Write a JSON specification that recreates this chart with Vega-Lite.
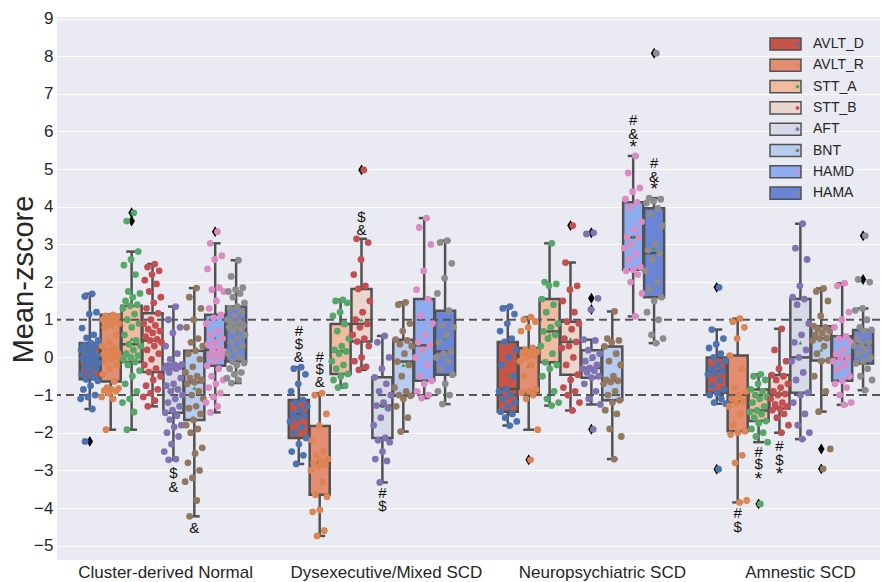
{
"$schema": "https://vega.github.io/schema/vega-lite/v6.json",
"width": 823, "height": 543,
"autosize": {"type": "none"},
"padding": {"left": 57, "top": 17, "right": 1, "bottom": 22},
"background": "white",
"config": {"view": {"fill": "#EAEAF2", "stroke": null}, "font": "Liberation Sans",
 "axisY": {"labelOverlap": false, "labelSeparation": 0, "tickCount": 15, "values": [-5,-4,-3,-2,-1,0,1,2,3,4,5,6,7,8,9]},
 "axisX": {"labelOverlap": false}},
"datasets": {
"stats": [
{"g":"N","t":"AVLT_D","lo":-1.37,"q1":-0.58,"med":-0.04,"q3":0.38,"hi":1.69,"mean":-0.1},
{"g":"N","t":"AVLT_R","lo":-1.92,"q1":-0.64,"med":0.1,"q3":1.13,"hi":1.13,"mean":0.18},
{"g":"N","t":"STT_A","lo":-1.92,"q1":-0.12,"med":0.35,"q3":1.37,"hi":2.81,"mean":0.49},
{"g":"N","t":"STT_B","lo":-1.3,"q1":-0.39,"med":0.45,"q3":1.17,"hi":2.48,"mean":0.49},
{"g":"N","t":"AFT","lo":-2.72,"q1":-1.47,"med":-0.28,"q3":-0.19,"hi":1.35,"mean":-0.81},
{"g":"N","t":"BNT","lo":-4.22,"q1":-1.66,"med":-0.66,"q3":0.18,"hi":1.84,"mean":-0.81},
{"g":"N","t":"HAMD","lo":-1.46,"q1":-0.22,"med":0.2,"q3":1.13,"hi":3.03,"mean":0.51},
{"g":"N","t":"HAMA","lo":-0.68,"q1":-0.11,"med":0.84,"q3":1.35,"hi":2.58,"mean":0.68},
{"g":"D","t":"AVLT_D","lo":-2.83,"q1":-2.14,"med":-1.5,"q3":-1.13,"hi":-0.26,"mean":-1.6},
{"g":"D","t":"AVLT_R","lo":-4.74,"q1":-3.65,"med":-2.8,"q3":-1.82,"hi":-0.95,"mean":-2.72},
{"g":"D","t":"STT_A","lo":-0.8,"q1":-0.44,"med":0.16,"q3":0.89,"hi":1.53,"mean":0.2},
{"g":"D","t":"STT_B","lo":-0.33,"q1":0.42,"med":0.89,"q3":1.82,"hi":3.15,"mean":1.0},
{"g":"D","t":"AFT","lo":-3.32,"q1":-2.14,"med":-1.28,"q3":-0.53,"hi":0.57,"mean":-1.3},
{"g":"D","t":"BNT","lo":-1.97,"q1":-1.02,"med":-0.11,"q3":0.47,"hi":1.46,"mean":-0.21},
{"g":"D","t":"HAMD","lo":-1.08,"q1":-0.62,"med":0.32,"q3":1.55,"hi":3.7,"mean":0.65},
{"g":"D","t":"HAMA","lo":-1.24,"q1":-0.46,"med":0.16,"q3":1.24,"hi":3.1,"mean":0.5},
{"g":"P","t":"AVLT_D","lo":-1.81,"q1":-1.44,"med":-0.84,"q3":0.41,"hi":1.35,"mean":-0.46},
{"g":"P","t":"AVLT_R","lo":-1.92,"q1":-0.93,"med":0.11,"q3":0.25,"hi":1.07,"mean":-0.22},
{"g":"P","t":"STT_A","lo":-1.28,"q1":-0.13,"med":0.69,"q3":1.55,"hi":3.03,"mean":0.6},
{"g":"P","t":"STT_B","lo":-1.41,"q1":-0.46,"med":0.41,"q3":0.95,"hi":2.52,"mean":0.49},
{"g":"P","t":"AFT","lo":-1.25,"q1":-0.54,"med":-0.28,"q3":0.19,"hi":0.47,"mean":-0.05},
{"g":"P","t":"BNT","lo":-2.7,"q1":-1.14,"med":-0.62,"q3":0.29,"hi":1.22,"mean":-0.5},
{"g":"P","t":"HAMD","lo":1.09,"q1":2.33,"med":3.19,"q3":4.12,"hi":5.35,"mean":3.2},
{"g":"P","t":"HAMA","lo":0.38,"q1":1.6,"med":2.77,"q3":3.96,"hi":4.23,"mean":2.9},
{"g":"A","t":"AVLT_D","lo":-1.23,"q1":-0.94,"med":-0.36,"q3":0.0,"hi":0.74,"mean":-0.45},
{"g":"A","t":"AVLT_R","lo":-3.85,"q1":-1.96,"med":-1.17,"q3":0.05,"hi":1.03,"mean":-1.17},
{"g":"A","t":"STT_A","lo":-2.25,"q1":-1.69,"med":-1.41,"q3":-0.85,"hi":-0.45,"mean":-1.45},
{"g":"A","t":"STT_B","lo":-2.0,"q1":-1.36,"med":-0.97,"q3":-0.47,"hi":0.76,"mean":-0.9},
{"g":"A","t":"AFT","lo":-2.17,"q1":-0.94,"med":0.0,"q3":1.55,"hi":3.55,"mean":0.39},
{"g":"A","t":"BNT","lo":-1.44,"q1":-0.08,"med":0.51,"q3":0.83,"hi":1.83,"mean":0.2},
{"g":"A","t":"HAMD","lo":-1.26,"q1":-0.62,"med":-0.03,"q3":0.56,"hi":1.97,"mean":0.0},
{"g":"A","t":"HAMA","lo":-0.87,"q1":-0.16,"med":0.35,"q3":0.73,"hi":1.3,"mean":0.4}
],
"outliers": [
{"g":"N","t":"AVLT_D","z":-2.23},{"g":"N","t":"STT_A","z":3.62},{"g":"N","t":"STT_A","z":3.84},{"g":"N","t":"HAMD","z":3.34},
{"g":"D","t":"STT_B","z":4.98},
{"g":"P","t":"AVLT_R","z":-2.72},{"g":"P","t":"STT_B","z":3.5},{"g":"P","t":"AFT","z":3.31},{"g":"P","t":"AFT","z":1.57},{"g":"P","t":"AFT","z":1.27},{"g":"P","t":"AFT","z":-1.91},{"g":"P","t":"HAMA","z":8.08},
{"g":"A","t":"AVLT_D","z":1.86},{"g":"A","t":"AVLT_D","z":-2.97},{"g":"A","t":"STT_A","z":-3.89},{"g":"A","t":"BNT","z":-2.43},{"g":"A","t":"BNT","z":-2.96},{"g":"A","t":"HAMA","z":3.23},{"g":"A","t":"HAMA","z":2.07}
],
"notes": [
{"g":"N","t":"AFT","z":-3.07,"s":"$"},{"g":"N","t":"AFT","z":-3.45,"s":"&"},{"g":"N","t":"BNT","z":-4.53,"s":"&"},
{"g":"D","t":"AVLT_D","z":0.69,"s":"#"},{"g":"D","t":"AVLT_D","z":0.36,"s":"$"},{"g":"D","t":"AVLT_D","z":0.02,"s":"&"},
{"g":"D","t":"AVLT_R","z":0.02,"s":"#"},{"g":"D","t":"AVLT_R","z":-0.31,"s":"$"},{"g":"D","t":"AVLT_R","z":-0.66,"s":"&"},
{"g":"D","t":"STT_B","z":3.74,"s":"$"},{"g":"D","t":"STT_B","z":3.39,"s":"&"},
{"g":"D","t":"AFT","z":-3.6,"s":"#"},{"g":"D","t":"AFT","z":-3.94,"s":"$"},
{"g":"P","t":"HAMD","z":6.31,"s":"#"},{"g":"P","t":"HAMD","z":5.93,"s":"&"},{"g":"P","t":"HAMD","z":5.58,"s":"*"},
{"g":"P","t":"HAMA","z":5.16,"s":"#"},{"g":"P","t":"HAMA","z":4.8,"s":"&"},{"g":"P","t":"HAMA","z":4.46,"s":"*"},
{"g":"A","t":"AVLT_R","z":-4.13,"s":"#"},{"g":"A","t":"AVLT_R","z":-4.5,"s":"$"},
{"g":"A","t":"STT_A","z":-2.5,"s":"#"},{"g":"A","t":"STT_A","z":-2.84,"s":"$"},{"g":"A","t":"STT_A","z":-3.22,"s":"*"},
{"g":"A","t":"STT_B","z":-2.35,"s":"#"},{"g":"A","t":"STT_B","z":-2.72,"s":"$"},{"g":"A","t":"STT_B","z":-3.1,"s":"*"}
],
"refs": [{"z":1},{"z":-1}],
"points": [
{"g":"N","t":"AVLT_D","z":1.69},{"g":"N","t":"AVLT_D","z":1.62},{"g":"N","t":"AVLT_D","z":1.2},{"g":"N","t":"AVLT_D","z":1.15},{"g":"N","t":"AVLT_D","z":0.78},{"g":"N","t":"AVLT_D","z":0.6},{"g":"N","t":"AVLT_D","z":0.52},{"g":"N","t":"AVLT_D","z":0.45},{"g":"N","t":"AVLT_D","z":0.38},{"g":"N","t":"AVLT_D","z":0.32},{"g":"N","t":"AVLT_D","z":0.3},{"g":"N","t":"AVLT_D","z":0.25},{"g":"N","t":"AVLT_D","z":0.2},{"g":"N","t":"AVLT_D","z":0.15},{"g":"N","t":"AVLT_D","z":0.1},{"g":"N","t":"AVLT_D","z":0.05},{"g":"N","t":"AVLT_D","z":0.0},{"g":"N","t":"AVLT_D","z":-0.04},{"g":"N","t":"AVLT_D","z":-0.05},{"g":"N","t":"AVLT_D","z":-0.1},{"g":"N","t":"AVLT_D","z":-0.15},{"g":"N","t":"AVLT_D","z":-0.2},{"g":"N","t":"AVLT_D","z":-0.25},{"g":"N","t":"AVLT_D","z":-0.3},{"g":"N","t":"AVLT_D","z":-0.38},{"g":"N","t":"AVLT_D","z":-0.45},{"g":"N","t":"AVLT_D","z":-0.52},{"g":"N","t":"AVLT_D","z":-0.58},{"g":"N","t":"AVLT_D","z":-0.62},{"g":"N","t":"AVLT_D","z":-0.75},{"g":"N","t":"AVLT_D","z":-0.85},{"g":"N","t":"AVLT_D","z":-1.0},{"g":"N","t":"AVLT_D","z":-1.05},{"g":"N","t":"AVLT_D","z":-1.1},{"g":"N","t":"AVLT_D","z":-1.37},{"g":"N","t":"AVLT_D","z":-2.23},
{"g":"N","t":"AVLT_R","z":1.13},{"g":"N","t":"AVLT_R","z":1.1},{"g":"N","t":"AVLT_R","z":1.08},{"g":"N","t":"AVLT_R","z":1.05},{"g":"N","t":"AVLT_R","z":1.0},{"g":"N","t":"AVLT_R","z":0.98},{"g":"N","t":"AVLT_R","z":0.95},{"g":"N","t":"AVLT_R","z":0.9},{"g":"N","t":"AVLT_R","z":0.85},{"g":"N","t":"AVLT_R","z":0.8},{"g":"N","t":"AVLT_R","z":0.6},{"g":"N","t":"AVLT_R","z":0.4},{"g":"N","t":"AVLT_R","z":0.3},{"g":"N","t":"AVLT_R","z":0.25},{"g":"N","t":"AVLT_R","z":0.18},{"g":"N","t":"AVLT_R","z":0.12},{"g":"N","t":"AVLT_R","z":0.1},{"g":"N","t":"AVLT_R","z":0.08},{"g":"N","t":"AVLT_R","z":0.05},{"g":"N","t":"AVLT_R","z":0.02},{"g":"N","t":"AVLT_R","z":0.0},{"g":"N","t":"AVLT_R","z":-0.05},{"g":"N","t":"AVLT_R","z":-0.1},{"g":"N","t":"AVLT_R","z":-0.2},{"g":"N","t":"AVLT_R","z":-0.3},{"g":"N","t":"AVLT_R","z":-0.45},{"g":"N","t":"AVLT_R","z":-0.64},{"g":"N","t":"AVLT_R","z":-0.8},{"g":"N","t":"AVLT_R","z":-0.82},{"g":"N","t":"AVLT_R","z":-0.85},{"g":"N","t":"AVLT_R","z":-0.88},{"g":"N","t":"AVLT_R","z":-0.9},{"g":"N","t":"AVLT_R","z":-0.95},{"g":"N","t":"AVLT_R","z":-1.05},{"g":"N","t":"AVLT_R","z":-1.1},{"g":"N","t":"AVLT_R","z":-1.92},
{"g":"N","t":"STT_A","z":3.84},{"g":"N","t":"STT_A","z":3.62},{"g":"N","t":"STT_A","z":2.81},{"g":"N","t":"STT_A","z":2.6},{"g":"N","t":"STT_A","z":2.45},{"g":"N","t":"STT_A","z":2.2},{"g":"N","t":"STT_A","z":1.75},{"g":"N","t":"STT_A","z":1.7},{"g":"N","t":"STT_A","z":1.6},{"g":"N","t":"STT_A","z":1.5},{"g":"N","t":"STT_A","z":1.4},{"g":"N","t":"STT_A","z":1.37},{"g":"N","t":"STT_A","z":1.3},{"g":"N","t":"STT_A","z":1.15},{"g":"N","t":"STT_A","z":1.0},{"g":"N","t":"STT_A","z":0.9},{"g":"N","t":"STT_A","z":0.8},{"g":"N","t":"STT_A","z":0.6},{"g":"N","t":"STT_A","z":0.45},{"g":"N","t":"STT_A","z":0.35},{"g":"N","t":"STT_A","z":0.3},{"g":"N","t":"STT_A","z":0.2},{"g":"N","t":"STT_A","z":0.1},{"g":"N","t":"STT_A","z":0.05},{"g":"N","t":"STT_A","z":0.0},{"g":"N","t":"STT_A","z":-0.05},{"g":"N","t":"STT_A","z":-0.12},{"g":"N","t":"STT_A","z":-0.2},{"g":"N","t":"STT_A","z":-0.35},{"g":"N","t":"STT_A","z":-0.5},{"g":"N","t":"STT_A","z":-0.7},{"g":"N","t":"STT_A","z":-0.9},{"g":"N","t":"STT_A","z":-1.1},{"g":"N","t":"STT_A","z":-1.2},{"g":"N","t":"STT_A","z":-1.45},{"g":"N","t":"STT_A","z":-1.92},
{"g":"N","t":"STT_B","z":2.48},{"g":"N","t":"STT_B","z":2.4},{"g":"N","t":"STT_B","z":2.3},{"g":"N","t":"STT_B","z":2.2},{"g":"N","t":"STT_B","z":2.05},{"g":"N","t":"STT_B","z":1.95},{"g":"N","t":"STT_B","z":1.75},{"g":"N","t":"STT_B","z":1.6},{"g":"N","t":"STT_B","z":1.45},{"g":"N","t":"STT_B","z":1.3},{"g":"N","t":"STT_B","z":1.17},{"g":"N","t":"STT_B","z":1.0},{"g":"N","t":"STT_B","z":0.9},{"g":"N","t":"STT_B","z":0.85},{"g":"N","t":"STT_B","z":0.75},{"g":"N","t":"STT_B","z":0.7},{"g":"N","t":"STT_B","z":0.65},{"g":"N","t":"STT_B","z":0.55},{"g":"N","t":"STT_B","z":0.48},{"g":"N","t":"STT_B","z":0.45},{"g":"N","t":"STT_B","z":0.4},{"g":"N","t":"STT_B","z":0.3},{"g":"N","t":"STT_B","z":0.2},{"g":"N","t":"STT_B","z":0.1},{"g":"N","t":"STT_B","z":-0.05},{"g":"N","t":"STT_B","z":-0.2},{"g":"N","t":"STT_B","z":-0.3},{"g":"N","t":"STT_B","z":-0.39},{"g":"N","t":"STT_B","z":-0.5},{"g":"N","t":"STT_B","z":-0.6},{"g":"N","t":"STT_B","z":-0.75},{"g":"N","t":"STT_B","z":-0.85},{"g":"N","t":"STT_B","z":-0.95},{"g":"N","t":"STT_B","z":-1.05},{"g":"N","t":"STT_B","z":-1.15},{"g":"N","t":"STT_B","z":-1.3},
{"g":"N","t":"AFT","z":1.35},{"g":"N","t":"AFT","z":1.0},{"g":"N","t":"AFT","z":0.8},{"g":"N","t":"AFT","z":0.65},{"g":"N","t":"AFT","z":0.3},{"g":"N","t":"AFT","z":0.1},{"g":"N","t":"AFT","z":-0.05},{"g":"N","t":"AFT","z":-0.19},{"g":"N","t":"AFT","z":-0.2},{"g":"N","t":"AFT","z":-0.22},{"g":"N","t":"AFT","z":-0.25},{"g":"N","t":"AFT","z":-0.27},{"g":"N","t":"AFT","z":-0.28},{"g":"N","t":"AFT","z":-0.3},{"g":"N","t":"AFT","z":-0.4},{"g":"N","t":"AFT","z":-0.55},{"g":"N","t":"AFT","z":-0.7},{"g":"N","t":"AFT","z":-0.75},{"g":"N","t":"AFT","z":-0.85},{"g":"N","t":"AFT","z":-0.9},{"g":"N","t":"AFT","z":-1.0},{"g":"N","t":"AFT","z":-1.1},{"g":"N","t":"AFT","z":-1.2},{"g":"N","t":"AFT","z":-1.3},{"g":"N","t":"AFT","z":-1.4},{"g":"N","t":"AFT","z":-1.47},{"g":"N","t":"AFT","z":-1.55},{"g":"N","t":"AFT","z":-1.65},{"g":"N","t":"AFT","z":-1.8},{"g":"N","t":"AFT","z":-1.85},{"g":"N","t":"AFT","z":-2.0},{"g":"N","t":"AFT","z":-2.1},{"g":"N","t":"AFT","z":-2.3},{"g":"N","t":"AFT","z":-2.5},{"g":"N","t":"AFT","z":-2.7},{"g":"N","t":"AFT","z":-2.72},
{"g":"N","t":"BNT","z":1.84},{"g":"N","t":"BNT","z":1.6},{"g":"N","t":"BNT","z":1.3},{"g":"N","t":"BNT","z":1.0},{"g":"N","t":"BNT","z":0.8},{"g":"N","t":"BNT","z":0.5},{"g":"N","t":"BNT","z":0.4},{"g":"N","t":"BNT","z":0.3},{"g":"N","t":"BNT","z":0.18},{"g":"N","t":"BNT","z":0.1},{"g":"N","t":"BNT","z":-0.05},{"g":"N","t":"BNT","z":-0.25},{"g":"N","t":"BNT","z":-0.4},{"g":"N","t":"BNT","z":-0.5},{"g":"N","t":"BNT","z":-0.55},{"g":"N","t":"BNT","z":-0.6},{"g":"N","t":"BNT","z":-0.66},{"g":"N","t":"BNT","z":-0.7},{"g":"N","t":"BNT","z":-0.9},{"g":"N","t":"BNT","z":-1.0},{"g":"N","t":"BNT","z":-1.1},{"g":"N","t":"BNT","z":-1.3},{"g":"N","t":"BNT","z":-1.35},{"g":"N","t":"BNT","z":-1.5},{"g":"N","t":"BNT","z":-1.66},{"g":"N","t":"BNT","z":-1.8},{"g":"N","t":"BNT","z":-1.9},{"g":"N","t":"BNT","z":-2.0},{"g":"N","t":"BNT","z":-2.4},{"g":"N","t":"BNT","z":-2.55},{"g":"N","t":"BNT","z":-2.8},{"g":"N","t":"BNT","z":-3.0},{"g":"N","t":"BNT","z":-3.2},{"g":"N","t":"BNT","z":-3.3},{"g":"N","t":"BNT","z":-3.8},{"g":"N","t":"BNT","z":-4.22},
{"g":"N","t":"HAMD","z":3.34},{"g":"N","t":"HAMD","z":3.03},{"g":"N","t":"HAMD","z":2.7},{"g":"N","t":"HAMD","z":2.6},{"g":"N","t":"HAMD","z":2.35},{"g":"N","t":"HAMD","z":1.85},{"g":"N","t":"HAMD","z":1.8},{"g":"N","t":"HAMD","z":1.75},{"g":"N","t":"HAMD","z":1.5},{"g":"N","t":"HAMD","z":1.3},{"g":"N","t":"HAMD","z":1.13},{"g":"N","t":"HAMD","z":1.05},{"g":"N","t":"HAMD","z":0.9},{"g":"N","t":"HAMD","z":0.7},{"g":"N","t":"HAMD","z":0.6},{"g":"N","t":"HAMD","z":0.5},{"g":"N","t":"HAMD","z":0.4},{"g":"N","t":"HAMD","z":0.35},{"g":"N","t":"HAMD","z":0.25},{"g":"N","t":"HAMD","z":0.2},{"g":"N","t":"HAMD","z":0.15},{"g":"N","t":"HAMD","z":0.1},{"g":"N","t":"HAMD","z":0.05},{"g":"N","t":"HAMD","z":0.0},{"g":"N","t":"HAMD","z":-0.1},{"g":"N","t":"HAMD","z":-0.22},{"g":"N","t":"HAMD","z":-0.3},{"g":"N","t":"HAMD","z":-0.5},{"g":"N","t":"HAMD","z":-0.6},{"g":"N","t":"HAMD","z":-0.7},{"g":"N","t":"HAMD","z":-0.8},{"g":"N","t":"HAMD","z":-0.95},{"g":"N","t":"HAMD","z":-1.05},{"g":"N","t":"HAMD","z":-1.2},{"g":"N","t":"HAMD","z":-1.3},{"g":"N","t":"HAMD","z":-1.46},
{"g":"N","t":"HAMA","z":2.58},{"g":"N","t":"HAMA","z":2.15},{"g":"N","t":"HAMA","z":1.85},{"g":"N","t":"HAMA","z":1.8},{"g":"N","t":"HAMA","z":1.75},{"g":"N","t":"HAMA","z":1.7},{"g":"N","t":"HAMA","z":1.6},{"g":"N","t":"HAMA","z":1.45},{"g":"N","t":"HAMA","z":1.35},{"g":"N","t":"HAMA","z":1.3},{"g":"N","t":"HAMA","z":1.2},{"g":"N","t":"HAMA","z":1.1},{"g":"N","t":"HAMA","z":1.0},{"g":"N","t":"HAMA","z":0.95},{"g":"N","t":"HAMA","z":0.9},{"g":"N","t":"HAMA","z":0.85},{"g":"N","t":"HAMA","z":0.84},{"g":"N","t":"HAMA","z":0.8},{"g":"N","t":"HAMA","z":0.75},{"g":"N","t":"HAMA","z":0.7},{"g":"N","t":"HAMA","z":0.6},{"g":"N","t":"HAMA","z":0.5},{"g":"N","t":"HAMA","z":0.4},{"g":"N","t":"HAMA","z":0.3},{"g":"N","t":"HAMA","z":0.2},{"g":"N","t":"HAMA","z":0.1},{"g":"N","t":"HAMA","z":0.0},{"g":"N","t":"HAMA","z":-0.11},{"g":"N","t":"HAMA","z":-0.15},{"g":"N","t":"HAMA","z":-0.2},{"g":"N","t":"HAMA","z":-0.3},{"g":"N","t":"HAMA","z":-0.4},{"g":"N","t":"HAMA","z":-0.45},{"g":"N","t":"HAMA","z":-0.55},{"g":"N","t":"HAMA","z":-0.6},{"g":"N","t":"HAMA","z":-0.68},
{"g":"D","t":"AVLT_D","z":-0.26},{"g":"D","t":"AVLT_D","z":-0.3},{"g":"D","t":"AVLT_D","z":-0.45},{"g":"D","t":"AVLT_D","z":-0.7},{"g":"D","t":"AVLT_D","z":-0.9},{"g":"D","t":"AVLT_D","z":-1.13},{"g":"D","t":"AVLT_D","z":-1.2},{"g":"D","t":"AVLT_D","z":-1.3},{"g":"D","t":"AVLT_D","z":-1.4},{"g":"D","t":"AVLT_D","z":-1.5},{"g":"D","t":"AVLT_D","z":-1.55},{"g":"D","t":"AVLT_D","z":-1.6},{"g":"D","t":"AVLT_D","z":-1.7},{"g":"D","t":"AVLT_D","z":-1.85},{"g":"D","t":"AVLT_D","z":-2.0},{"g":"D","t":"AVLT_D","z":-2.14},{"g":"D","t":"AVLT_D","z":-2.3},{"g":"D","t":"AVLT_D","z":-2.5},{"g":"D","t":"AVLT_D","z":-2.6},{"g":"D","t":"AVLT_D","z":-2.83},
{"g":"D","t":"AVLT_R","z":-0.95},{"g":"D","t":"AVLT_R","z":-1.0},{"g":"D","t":"AVLT_R","z":-1.5},{"g":"D","t":"AVLT_R","z":-1.82},{"g":"D","t":"AVLT_R","z":-2.2},{"g":"D","t":"AVLT_R","z":-2.5},{"g":"D","t":"AVLT_R","z":-2.6},{"g":"D","t":"AVLT_R","z":-2.7},{"g":"D","t":"AVLT_R","z":-2.75},{"g":"D","t":"AVLT_R","z":-2.8},{"g":"D","t":"AVLT_R","z":-2.85},{"g":"D","t":"AVLT_R","z":-2.9},{"g":"D","t":"AVLT_R","z":-3.0},{"g":"D","t":"AVLT_R","z":-3.3},{"g":"D","t":"AVLT_R","z":-3.65},{"g":"D","t":"AVLT_R","z":-3.7},{"g":"D","t":"AVLT_R","z":-4.05},{"g":"D","t":"AVLT_R","z":-4.1},{"g":"D","t":"AVLT_R","z":-4.6},{"g":"D","t":"AVLT_R","z":-4.74},
{"g":"D","t":"STT_A","z":1.53},{"g":"D","t":"STT_A","z":1.5},{"g":"D","t":"STT_A","z":1.45},{"g":"D","t":"STT_A","z":1.2},{"g":"D","t":"STT_A","z":1.1},{"g":"D","t":"STT_A","z":0.89},{"g":"D","t":"STT_A","z":0.7},{"g":"D","t":"STT_A","z":0.5},{"g":"D","t":"STT_A","z":0.3},{"g":"D","t":"STT_A","z":0.2},{"g":"D","t":"STT_A","z":0.16},{"g":"D","t":"STT_A","z":0.1},{"g":"D","t":"STT_A","z":-0.1},{"g":"D","t":"STT_A","z":-0.2},{"g":"D","t":"STT_A","z":-0.3},{"g":"D","t":"STT_A","z":-0.44},{"g":"D","t":"STT_A","z":-0.5},{"g":"D","t":"STT_A","z":-0.6},{"g":"D","t":"STT_A","z":-0.75},{"g":"D","t":"STT_A","z":-0.8},
{"g":"D","t":"STT_B","z":4.98},{"g":"D","t":"STT_B","z":3.15},{"g":"D","t":"STT_B","z":3.05},{"g":"D","t":"STT_B","z":2.6},{"g":"D","t":"STT_B","z":2.2},{"g":"D","t":"STT_B","z":1.9},{"g":"D","t":"STT_B","z":1.82},{"g":"D","t":"STT_B","z":1.5},{"g":"D","t":"STT_B","z":1.2},{"g":"D","t":"STT_B","z":1.0},{"g":"D","t":"STT_B","z":0.89},{"g":"D","t":"STT_B","z":0.8},{"g":"D","t":"STT_B","z":0.6},{"g":"D","t":"STT_B","z":0.5},{"g":"D","t":"STT_B","z":0.42},{"g":"D","t":"STT_B","z":0.3},{"g":"D","t":"STT_B","z":0.0},{"g":"D","t":"STT_B","z":-0.1},{"g":"D","t":"STT_B","z":-0.25},{"g":"D","t":"STT_B","z":-0.33},
{"g":"D","t":"AFT","z":0.57},{"g":"D","t":"AFT","z":0.4},{"g":"D","t":"AFT","z":0.0},{"g":"D","t":"AFT","z":-0.3},{"g":"D","t":"AFT","z":-0.53},{"g":"D","t":"AFT","z":-0.7},{"g":"D","t":"AFT","z":-0.9},{"g":"D","t":"AFT","z":-1.0},{"g":"D","t":"AFT","z":-1.2},{"g":"D","t":"AFT","z":-1.28},{"g":"D","t":"AFT","z":-1.35},{"g":"D","t":"AFT","z":-1.6},{"g":"D","t":"AFT","z":-1.8},{"g":"D","t":"AFT","z":-2.14},{"g":"D","t":"AFT","z":-2.2},{"g":"D","t":"AFT","z":-2.25},{"g":"D","t":"AFT","z":-2.5},{"g":"D","t":"AFT","z":-2.7},{"g":"D","t":"AFT","z":-2.75},{"g":"D","t":"AFT","z":-3.32},
{"g":"D","t":"BNT","z":1.46},{"g":"D","t":"BNT","z":1.4},{"g":"D","t":"BNT","z":0.9},{"g":"D","t":"BNT","z":0.7},{"g":"D","t":"BNT","z":0.47},{"g":"D","t":"BNT","z":0.45},{"g":"D","t":"BNT","z":0.35},{"g":"D","t":"BNT","z":0.3},{"g":"D","t":"BNT","z":0.1},{"g":"D","t":"BNT","z":-0.11},{"g":"D","t":"BNT","z":-0.2},{"g":"D","t":"BNT","z":-0.5},{"g":"D","t":"BNT","z":-0.8},{"g":"D","t":"BNT","z":-0.9},{"g":"D","t":"BNT","z":-1.0},{"g":"D","t":"BNT","z":-1.02},{"g":"D","t":"BNT","z":-1.1},{"g":"D","t":"BNT","z":-1.3},{"g":"D","t":"BNT","z":-1.6},{"g":"D","t":"BNT","z":-1.97},
{"g":"D","t":"HAMD","z":3.7},{"g":"D","t":"HAMD","z":3.45},{"g":"D","t":"HAMD","z":3.0},{"g":"D","t":"HAMD","z":2.3},{"g":"D","t":"HAMD","z":1.8},{"g":"D","t":"HAMD","z":1.55},{"g":"D","t":"HAMD","z":1.1},{"g":"D","t":"HAMD","z":0.9},{"g":"D","t":"HAMD","z":0.6},{"g":"D","t":"HAMD","z":0.4},{"g":"D","t":"HAMD","z":0.32},{"g":"D","t":"HAMD","z":0.2},{"g":"D","t":"HAMD","z":0.0},{"g":"D","t":"HAMD","z":-0.2},{"g":"D","t":"HAMD","z":-0.5},{"g":"D","t":"HAMD","z":-0.62},{"g":"D","t":"HAMD","z":-0.7},{"g":"D","t":"HAMD","z":-0.9},{"g":"D","t":"HAMD","z":-1.0},{"g":"D","t":"HAMD","z":-1.08},
{"g":"D","t":"HAMA","z":3.1},{"g":"D","t":"HAMA","z":3.05},{"g":"D","t":"HAMA","z":2.5},{"g":"D","t":"HAMA","z":2.1},{"g":"D","t":"HAMA","z":1.7},{"g":"D","t":"HAMA","z":1.24},{"g":"D","t":"HAMA","z":0.85},{"g":"D","t":"HAMA","z":0.8},{"g":"D","t":"HAMA","z":0.6},{"g":"D","t":"HAMA","z":0.4},{"g":"D","t":"HAMA","z":0.16},{"g":"D","t":"HAMA","z":0.1},{"g":"D","t":"HAMA","z":0.0},{"g":"D","t":"HAMA","z":-0.1},{"g":"D","t":"HAMA","z":-0.3},{"g":"D","t":"HAMA","z":-0.46},{"g":"D","t":"HAMA","z":-0.7},{"g":"D","t":"HAMA","z":-0.9},{"g":"D","t":"HAMA","z":-1.0},{"g":"D","t":"HAMA","z":-1.24},
{"g":"P","t":"AVLT_D","z":1.35},{"g":"P","t":"AVLT_D","z":1.3},{"g":"P","t":"AVLT_D","z":1.15},{"g":"P","t":"AVLT_D","z":0.9},{"g":"P","t":"AVLT_D","z":0.7},{"g":"P","t":"AVLT_D","z":0.5},{"g":"P","t":"AVLT_D","z":0.41},{"g":"P","t":"AVLT_D","z":0.2},{"g":"P","t":"AVLT_D","z":0.0},{"g":"P","t":"AVLT_D","z":-0.2},{"g":"P","t":"AVLT_D","z":-0.5},{"g":"P","t":"AVLT_D","z":-0.84},{"g":"P","t":"AVLT_D","z":-0.9},{"g":"P","t":"AVLT_D","z":-1.0},{"g":"P","t":"AVLT_D","z":-1.1},{"g":"P","t":"AVLT_D","z":-1.2},{"g":"P","t":"AVLT_D","z":-1.3},{"g":"P","t":"AVLT_D","z":-1.44},{"g":"P","t":"AVLT_D","z":-1.5},{"g":"P","t":"AVLT_D","z":-1.6},{"g":"P","t":"AVLT_D","z":-1.7},{"g":"P","t":"AVLT_D","z":-1.81},
{"g":"P","t":"AVLT_R","z":1.07},{"g":"P","t":"AVLT_R","z":1.0},{"g":"P","t":"AVLT_R","z":0.95},{"g":"P","t":"AVLT_R","z":0.8},{"g":"P","t":"AVLT_R","z":0.7},{"g":"P","t":"AVLT_R","z":0.25},{"g":"P","t":"AVLT_R","z":0.2},{"g":"P","t":"AVLT_R","z":0.15},{"g":"P","t":"AVLT_R","z":0.11},{"g":"P","t":"AVLT_R","z":0.1},{"g":"P","t":"AVLT_R","z":0.05},{"g":"P","t":"AVLT_R","z":0.0},{"g":"P","t":"AVLT_R","z":-0.1},{"g":"P","t":"AVLT_R","z":-0.2},{"g":"P","t":"AVLT_R","z":-0.5},{"g":"P","t":"AVLT_R","z":-0.85},{"g":"P","t":"AVLT_R","z":-0.9},{"g":"P","t":"AVLT_R","z":-0.93},{"g":"P","t":"AVLT_R","z":-1.0},{"g":"P","t":"AVLT_R","z":-1.1},{"g":"P","t":"AVLT_R","z":-1.92},{"g":"P","t":"AVLT_R","z":-2.72},
{"g":"P","t":"STT_A","z":3.03},{"g":"P","t":"STT_A","z":2.0},{"g":"P","t":"STT_A","z":1.95},{"g":"P","t":"STT_A","z":1.9},{"g":"P","t":"STT_A","z":1.55},{"g":"P","t":"STT_A","z":1.4},{"g":"P","t":"STT_A","z":1.2},{"g":"P","t":"STT_A","z":0.9},{"g":"P","t":"STT_A","z":0.8},{"g":"P","t":"STT_A","z":0.69},{"g":"P","t":"STT_A","z":0.6},{"g":"P","t":"STT_A","z":0.5},{"g":"P","t":"STT_A","z":0.3},{"g":"P","t":"STT_A","z":0.1},{"g":"P","t":"STT_A","z":-0.13},{"g":"P","t":"STT_A","z":-0.2},{"g":"P","t":"STT_A","z":-0.3},{"g":"P","t":"STT_A","z":-0.5},{"g":"P","t":"STT_A","z":-0.9},{"g":"P","t":"STT_A","z":-1.1},{"g":"P","t":"STT_A","z":-1.2},{"g":"P","t":"STT_A","z":-1.28},
{"g":"P","t":"STT_B","z":3.5},{"g":"P","t":"STT_B","z":2.52},{"g":"P","t":"STT_B","z":1.9},{"g":"P","t":"STT_B","z":1.8},{"g":"P","t":"STT_B","z":1.5},{"g":"P","t":"STT_B","z":1.2},{"g":"P","t":"STT_B","z":0.95},{"g":"P","t":"STT_B","z":0.9},{"g":"P","t":"STT_B","z":0.75},{"g":"P","t":"STT_B","z":0.5},{"g":"P","t":"STT_B","z":0.41},{"g":"P","t":"STT_B","z":0.3},{"g":"P","t":"STT_B","z":0.25},{"g":"P","t":"STT_B","z":0.0},{"g":"P","t":"STT_B","z":-0.2},{"g":"P","t":"STT_B","z":-0.46},{"g":"P","t":"STT_B","z":-0.6},{"g":"P","t":"STT_B","z":-0.8},{"g":"P","t":"STT_B","z":-0.9},{"g":"P","t":"STT_B","z":-1.0},{"g":"P","t":"STT_B","z":-1.2},{"g":"P","t":"STT_B","z":-1.41},
{"g":"P","t":"AFT","z":3.31},{"g":"P","t":"AFT","z":3.28},{"g":"P","t":"AFT","z":1.57},{"g":"P","t":"AFT","z":1.27},{"g":"P","t":"AFT","z":0.47},{"g":"P","t":"AFT","z":0.45},{"g":"P","t":"AFT","z":0.19},{"g":"P","t":"AFT","z":0.1},{"g":"P","t":"AFT","z":0.0},{"g":"P","t":"AFT","z":-0.1},{"g":"P","t":"AFT","z":-0.2},{"g":"P","t":"AFT","z":-0.28},{"g":"P","t":"AFT","z":-0.3},{"g":"P","t":"AFT","z":-0.35},{"g":"P","t":"AFT","z":-0.4},{"g":"P","t":"AFT","z":-0.5},{"g":"P","t":"AFT","z":-0.54},{"g":"P","t":"AFT","z":-0.7},{"g":"P","t":"AFT","z":-0.9},{"g":"P","t":"AFT","z":-1.1},{"g":"P","t":"AFT","z":-1.25},{"g":"P","t":"AFT","z":-1.91},
{"g":"P","t":"BNT","z":1.22},{"g":"P","t":"BNT","z":0.5},{"g":"P","t":"BNT","z":0.45},{"g":"P","t":"BNT","z":0.4},{"g":"P","t":"BNT","z":0.29},{"g":"P","t":"BNT","z":0.1},{"g":"P","t":"BNT","z":-0.1},{"g":"P","t":"BNT","z":-0.2},{"g":"P","t":"BNT","z":-0.5},{"g":"P","t":"BNT","z":-0.6},{"g":"P","t":"BNT","z":-0.62},{"g":"P","t":"BNT","z":-0.65},{"g":"P","t":"BNT","z":-0.7},{"g":"P","t":"BNT","z":-0.9},{"g":"P","t":"BNT","z":-1.0},{"g":"P","t":"BNT","z":-1.14},{"g":"P","t":"BNT","z":-1.2},{"g":"P","t":"BNT","z":-1.4},{"g":"P","t":"BNT","z":-1.5},{"g":"P","t":"BNT","z":-1.9},{"g":"P","t":"BNT","z":-2.1},{"g":"P","t":"BNT","z":-2.7},
{"g":"P","t":"HAMD","z":5.35},{"g":"P","t":"HAMD","z":4.9},{"g":"P","t":"HAMD","z":4.5},{"g":"P","t":"HAMD","z":4.4},{"g":"P","t":"HAMD","z":4.2},{"g":"P","t":"HAMD","z":4.12},{"g":"P","t":"HAMD","z":4.0},{"g":"P","t":"HAMD","z":3.6},{"g":"P","t":"HAMD","z":3.4},{"g":"P","t":"HAMD","z":3.2},{"g":"P","t":"HAMD","z":3.19},{"g":"P","t":"HAMD","z":3.0},{"g":"P","t":"HAMD","z":2.9},{"g":"P","t":"HAMD","z":2.75},{"g":"P","t":"HAMD","z":2.6},{"g":"P","t":"HAMD","z":2.4},{"g":"P","t":"HAMD","z":2.33},{"g":"P","t":"HAMD","z":2.3},{"g":"P","t":"HAMD","z":2.2},{"g":"P","t":"HAMD","z":2.0},{"g":"P","t":"HAMD","z":1.7},{"g":"P","t":"HAMD","z":1.09},
{"g":"P","t":"HAMA","z":8.08},{"g":"P","t":"HAMA","z":4.23},{"g":"P","t":"HAMA","z":4.2},{"g":"P","t":"HAMA","z":4.15},{"g":"P","t":"HAMA","z":4.1},{"g":"P","t":"HAMA","z":3.96},{"g":"P","t":"HAMA","z":3.8},{"g":"P","t":"HAMA","z":3.5},{"g":"P","t":"HAMA","z":3.0},{"g":"P","t":"HAMA","z":2.85},{"g":"P","t":"HAMA","z":2.77},{"g":"P","t":"HAMA","z":2.6},{"g":"P","t":"HAMA","z":2.3},{"g":"P","t":"HAMA","z":2.0},{"g":"P","t":"HAMA","z":1.8},{"g":"P","t":"HAMA","z":1.6},{"g":"P","t":"HAMA","z":1.5},{"g":"P","t":"HAMA","z":1.2},{"g":"P","t":"HAMA","z":1.0},{"g":"P","t":"HAMA","z":0.6},{"g":"P","t":"HAMA","z":0.5},{"g":"P","t":"HAMA","z":0.38},
{"g":"A","t":"AVLT_D","z":1.86},{"g":"A","t":"AVLT_D","z":0.74},{"g":"A","t":"AVLT_D","z":0.5},{"g":"A","t":"AVLT_D","z":0.35},{"g":"A","t":"AVLT_D","z":0.25},{"g":"A","t":"AVLT_D","z":0.1},{"g":"A","t":"AVLT_D","z":0.0},{"g":"A","t":"AVLT_D","z":-0.1},{"g":"A","t":"AVLT_D","z":-0.2},{"g":"A","t":"AVLT_D","z":-0.3},{"g":"A","t":"AVLT_D","z":-0.36},{"g":"A","t":"AVLT_D","z":-0.4},{"g":"A","t":"AVLT_D","z":-0.45},{"g":"A","t":"AVLT_D","z":-0.6},{"g":"A","t":"AVLT_D","z":-0.75},{"g":"A","t":"AVLT_D","z":-0.85},{"g":"A","t":"AVLT_D","z":-0.94},{"g":"A","t":"AVLT_D","z":-1.0},{"g":"A","t":"AVLT_D","z":-1.1},{"g":"A","t":"AVLT_D","z":-1.2},{"g":"A","t":"AVLT_D","z":-1.23},{"g":"A","t":"AVLT_D","z":-2.97},
{"g":"A","t":"AVLT_R","z":1.03},{"g":"A","t":"AVLT_R","z":0.95},{"g":"A","t":"AVLT_R","z":0.8},{"g":"A","t":"AVLT_R","z":0.5},{"g":"A","t":"AVLT_R","z":0.05},{"g":"A","t":"AVLT_R","z":-0.3},{"g":"A","t":"AVLT_R","z":-0.8},{"g":"A","t":"AVLT_R","z":-0.9},{"g":"A","t":"AVLT_R","z":-1.0},{"g":"A","t":"AVLT_R","z":-1.1},{"g":"A","t":"AVLT_R","z":-1.17},{"g":"A","t":"AVLT_R","z":-1.2},{"g":"A","t":"AVLT_R","z":-1.3},{"g":"A","t":"AVLT_R","z":-1.5},{"g":"A","t":"AVLT_R","z":-1.8},{"g":"A","t":"AVLT_R","z":-1.96},{"g":"A","t":"AVLT_R","z":-2.0},{"g":"A","t":"AVLT_R","z":-2.05},{"g":"A","t":"AVLT_R","z":-2.6},{"g":"A","t":"AVLT_R","z":-2.8},{"g":"A","t":"AVLT_R","z":-3.8},{"g":"A","t":"AVLT_R","z":-3.85},
{"g":"A","t":"STT_A","z":-0.45},{"g":"A","t":"STT_A","z":-0.5},{"g":"A","t":"STT_A","z":-0.6},{"g":"A","t":"STT_A","z":-0.7},{"g":"A","t":"STT_A","z":-0.85},{"g":"A","t":"STT_A","z":-0.9},{"g":"A","t":"STT_A","z":-1.0},{"g":"A","t":"STT_A","z":-1.05},{"g":"A","t":"STT_A","z":-1.1},{"g":"A","t":"STT_A","z":-1.2},{"g":"A","t":"STT_A","z":-1.3},{"g":"A","t":"STT_A","z":-1.41},{"g":"A","t":"STT_A","z":-1.45},{"g":"A","t":"STT_A","z":-1.5},{"g":"A","t":"STT_A","z":-1.6},{"g":"A","t":"STT_A","z":-1.69},{"g":"A","t":"STT_A","z":-1.75},{"g":"A","t":"STT_A","z":-1.9},{"g":"A","t":"STT_A","z":-2.0},{"g":"A","t":"STT_A","z":-2.1},{"g":"A","t":"STT_A","z":-2.25},{"g":"A","t":"STT_A","z":-3.89},
{"g":"A","t":"STT_B","z":0.76},{"g":"A","t":"STT_B","z":0.2},{"g":"A","t":"STT_B","z":-0.1},{"g":"A","t":"STT_B","z":-0.3},{"g":"A","t":"STT_B","z":-0.47},{"g":"A","t":"STT_B","z":-0.5},{"g":"A","t":"STT_B","z":-0.6},{"g":"A","t":"STT_B","z":-0.7},{"g":"A","t":"STT_B","z":-0.8},{"g":"A","t":"STT_B","z":-0.9},{"g":"A","t":"STT_B","z":-0.97},{"g":"A","t":"STT_B","z":-1.0},{"g":"A","t":"STT_B","z":-1.1},{"g":"A","t":"STT_B","z":-1.2},{"g":"A","t":"STT_B","z":-1.25},{"g":"A","t":"STT_B","z":-1.3},{"g":"A","t":"STT_B","z":-1.36},{"g":"A","t":"STT_B","z":-1.4},{"g":"A","t":"STT_B","z":-1.5},{"g":"A","t":"STT_B","z":-1.6},{"g":"A","t":"STT_B","z":-1.8},{"g":"A","t":"STT_B","z":-2.0},
{"g":"A","t":"AFT","z":3.55},{"g":"A","t":"AFT","z":2.9},{"g":"A","t":"AFT","z":2.6},{"g":"A","t":"AFT","z":1.9},{"g":"A","t":"AFT","z":1.6},{"g":"A","t":"AFT","z":1.55},{"g":"A","t":"AFT","z":1.4},{"g":"A","t":"AFT","z":0.9},{"g":"A","t":"AFT","z":0.6},{"g":"A","t":"AFT","z":0.4},{"g":"A","t":"AFT","z":0.2},{"g":"A","t":"AFT","z":0.0},{"g":"A","t":"AFT","z":-0.1},{"g":"A","t":"AFT","z":-0.4},{"g":"A","t":"AFT","z":-0.6},{"g":"A","t":"AFT","z":-0.94},{"g":"A","t":"AFT","z":-1.0},{"g":"A","t":"AFT","z":-1.2},{"g":"A","t":"AFT","z":-1.5},{"g":"A","t":"AFT","z":-1.8},{"g":"A","t":"AFT","z":-2.0},{"g":"A","t":"AFT","z":-2.17},
{"g":"A","t":"BNT","z":1.83},{"g":"A","t":"BNT","z":1.75},{"g":"A","t":"BNT","z":1.5},{"g":"A","t":"BNT","z":1.1},{"g":"A","t":"BNT","z":0.83},{"g":"A","t":"BNT","z":0.8},{"g":"A","t":"BNT","z":0.75},{"g":"A","t":"BNT","z":0.7},{"g":"A","t":"BNT","z":0.65},{"g":"A","t":"BNT","z":0.6},{"g":"A","t":"BNT","z":0.51},{"g":"A","t":"BNT","z":0.5},{"g":"A","t":"BNT","z":0.45},{"g":"A","t":"BNT","z":0.3},{"g":"A","t":"BNT","z":0.1},{"g":"A","t":"BNT","z":-0.08},{"g":"A","t":"BNT","z":-0.1},{"g":"A","t":"BNT","z":-0.5},{"g":"A","t":"BNT","z":-0.9},{"g":"A","t":"BNT","z":-1.44},{"g":"A","t":"BNT","z":-2.43},{"g":"A","t":"BNT","z":-2.96},
{"g":"A","t":"HAMD","z":1.97},{"g":"A","t":"HAMD","z":1.9},{"g":"A","t":"HAMD","z":1.2},{"g":"A","t":"HAMD","z":1.0},{"g":"A","t":"HAMD","z":0.8},{"g":"A","t":"HAMD","z":0.56},{"g":"A","t":"HAMD","z":0.5},{"g":"A","t":"HAMD","z":0.4},{"g":"A","t":"HAMD","z":0.2},{"g":"A","t":"HAMD","z":0.1},{"g":"A","t":"HAMD","z":0.0},{"g":"A","t":"HAMD","z":-0.03},{"g":"A","t":"HAMD","z":-0.1},{"g":"A","t":"HAMD","z":-0.2},{"g":"A","t":"HAMD","z":-0.3},{"g":"A","t":"HAMD","z":-0.5},{"g":"A","t":"HAMD","z":-0.62},{"g":"A","t":"HAMD","z":-0.7},{"g":"A","t":"HAMD","z":-0.8},{"g":"A","t":"HAMD","z":-1.0},{"g":"A","t":"HAMD","z":-1.2},{"g":"A","t":"HAMD","z":-1.26},
{"g":"A","t":"HAMA","z":3.23},{"g":"A","t":"HAMA","z":2.07},{"g":"A","t":"HAMA","z":2.0},{"g":"A","t":"HAMA","z":1.3},{"g":"A","t":"HAMA","z":1.25},{"g":"A","t":"HAMA","z":1.0},{"g":"A","t":"HAMA","z":0.8},{"g":"A","t":"HAMA","z":0.73},{"g":"A","t":"HAMA","z":0.7},{"g":"A","t":"HAMA","z":0.5},{"g":"A","t":"HAMA","z":0.4},{"g":"A","t":"HAMA","z":0.35},{"g":"A","t":"HAMA","z":0.3},{"g":"A","t":"HAMA","z":0.2},{"g":"A","t":"HAMA","z":0.1},{"g":"A","t":"HAMA","z":0.0},{"g":"A","t":"HAMA","z":-0.1},{"g":"A","t":"HAMA","z":-0.16},{"g":"A","t":"HAMA","z":-0.3},{"g":"A","t":"HAMA","z":-0.5},{"g":"A","t":"HAMA","z":-0.6},{"g":"A","t":"HAMA","z":-0.87}
]
},
"layer": [
{
"data": {"name": "stats"},
"transform": [
{"calculate": "indexof(['N','D','P','A'], datum.g) + (indexof(['AVLT_D','AVLT_R','STT_A','STT_B','AFT','BNT','HAMD','HAMA'], datum.t) - 3.5) * 0.1", "as": "xc"},
{"calculate": "datum.xc - 0.048", "as": "xl"},
{"calculate": "datum.xc + 0.048", "as": "xr"},
{"calculate": "datum.xc - 0.026", "as": "cl"},
{"calculate": "datum.xc + 0.026", "as": "cr"}
],
"layer": [
{"mark": {"type": "rule", "color": "#525252", "strokeWidth": 2.5},
 "encoding": {
  "x": {"field": "xc", "type": "quantitative",
   "scale": {"domain": [-0.507, 3.431], "nice": false, "zero": false},
   "axis": {"title": null, "values": [0.01, 1.067, 2.1, 3.048], "labelExpr": "['Cluster-derived Normal','Dysexecutive/Mixed SCD','Neuropsychiatric SCD','Amnestic SCD'][round(datum.value)]", "grid": false, "domain": false, "ticks": false, "labelFontSize": 17, "labelColor": "#262626", "labelPadding": 4, "labelFont": "Liberation Sans", "labelLimit": 400, "labelOverlap": false}},
  "y": {"field": "q3", "type": "quantitative",
   "scale": {"domain": [-5.38, 9.04], "nice": false, "zero": false},
   "axis": {"title": "Mean-zscore", "values": [-5,-4,-3,-2,-1,0,1,2,3,4,5,6,7,8,9], "labelOverlap": false, "grid": true, "gridColor": "white", "gridWidth": 1.2, "domain": false, "ticks": false, "labelFontSize": 17, "labelColor": "#262626", "labelPadding": 4, "labelFont": "Liberation Sans", "titleFontSize": 29, "titleFontWeight": "normal", "titleColor": "#262626", "titleFont": "Liberation Sans", "titleX": -25, "titleY": 262, "titleBaseline": "alphabetic", "titleAngle": -90, "titleAlign": "center"}},
  "y2": {"field": "hi"}}},
{"mark": {"type": "rule", "color": "#525252", "strokeWidth": 2.5},
 "encoding": {"x": {"field": "xc", "type": "quantitative"}, "y": {"field": "lo", "type": "quantitative"}, "y2": {"field": "q1"}}},
{"mark": {"type": "rule", "color": "#525252", "strokeWidth": 2.5},
 "encoding": {"x": {"field": "cl", "type": "quantitative"}, "x2": {"field": "cr"}, "y": {"field": "hi", "type": "quantitative"}}},
{"mark": {"type": "rule", "color": "#525252", "strokeWidth": 2.5},
 "encoding": {"x": {"field": "cl", "type": "quantitative"}, "x2": {"field": "cr"}, "y": {"field": "lo", "type": "quantitative"}}},
{"mark": {"type": "rect", "stroke": "#525252", "strokeWidth": 2.5},
 "encoding": {
  "x": {"field": "xl", "type": "quantitative"},
  "x2": {"field": "xr"},
  "y": {"field": "q1", "type": "quantitative"},
  "y2": {"field": "q3"},
  "color": {"field": "t", "type": "nominal",
   "scale": {"domain": ["AVLT_D","AVLT_R","STT_A","STT_B","AFT","BNT","HAMD","HAMA"], "range": ["#C75446","#E38E72","#F1BBA0","#EBD6CD","#D5DAE6","#B7CDF0","#8DADF0","#6A84D8"]},
   "legend": {"title": null, "orient": "none", "legendX": 712, "legendY": 19, "padding": 0,
    "symbolType": "M-1,-0.39H1V0.39H-1Z", "symbolSize": 961, "symbolStrokeColor": "#525252", "symbolStrokeWidth": 1.5, "symbolOpacity": 1,
    "clipHeight": 16, "rowPadding": 5.3, "labelOffset": 11, "labelFontSize": 14, "labelColor": "#262626", "labelFont": "Liberation Sans",
    "encode": {"symbols": {"update": {"stroke": {"value": "#525252"}, "strokeWidth": {"value": 1.5}}}}}}
 }},
{"mark": {"type": "rule", "color": "#525252", "strokeWidth": 2.5},
 "encoding": {"x": {"field": "xl", "type": "quantitative"}, "x2": {"field": "xr"}, "y": {"field": "med", "type": "quantitative"}}},
{"mark": {"type": "point", "shape": "triangle-up", "filled": true, "color": "#2e9e43", "size": 16, "opacity": 1},
 "encoding": {"x": {"field": "xc", "type": "quantitative"}, "y": {"field": "mean", "type": "quantitative"}}}
]
},
{
"data": {"name": "outliers"},
"transform": [
{"calculate": "indexof(['N','D','P','A'], datum.g) + (indexof(['AVLT_D','AVLT_R','STT_A','STT_B','AFT','BNT','HAMD','HAMA'], datum.t) - 3.5) * 0.1", "as": "xc"}
],
"mark": {"type": "point", "shape": "M0,-1L0.6,0L0,1L-0.6,0Z", "filled": true, "color": "black", "size": 120, "opacity": 1},
"encoding": {"x": {"field": "xc", "type": "quantitative"}, "y": {"field": "z", "type": "quantitative"}}
},
{
"data": {"name": "refs"},
"mark": {"type": "rule", "color": "#555555", "strokeWidth": 2, "strokeDash": [8, 5]},
"encoding": {"y": {"field": "z", "type": "quantitative"}}
},
{
"data": {"name": "points"},
"transform": [
{"window": [{"op": "row_number", "as": "k"}], "groupby": ["g", "t"]},
{"calculate": "indexof(['N','D','P','A'], datum.g) + (indexof(['AVLT_D','AVLT_R','STT_A','STT_B','AFT','BNT','HAMD','HAMA'], datum.t) - 3.5) * 0.1 + (((datum.k * 0.6180339887) % 1) - 0.5) * 0.09", "as": "xj"}
],
"mark": {"type": "circle", "size": 46, "opacity": 1},
"encoding": {
 "x": {"field": "xj", "type": "quantitative"},
 "y": {"field": "z", "type": "quantitative"},
 "fill": {"field": "t", "type": "nominal", "sort": ["AVLT_D","AVLT_R","STT_A","STT_B","AFT","BNT","HAMD","HAMA"],
  "scale": {"range": ["#4C72B0","#DD8452","#55A868","#C44E52","#8172B3","#937860","#DA8BC3","#8C8C8C"]},
  "legend": {"title": null, "orient": "none", "legendX": 733.5, "legendY": 19, "padding": 0,
   "symbolType": "circle", "symbolSize": 14, "symbolStrokeWidth": 0, "symbolOpacity": 1,
   "clipHeight": 16, "rowPadding": 5.3, "labelExpr": "''", "labelFontSize": 14}}
}
},
{
"data": {"name": "notes"},
"transform": [
{"calculate": "indexof(['N','D','P','A'], datum.g) + (indexof(['AVLT_D','AVLT_R','STT_A','STT_B','AFT','BNT','HAMD','HAMA'], datum.t) - 3.5) * 0.1", "as": "xc"}
],
"mark": {"type": "text", "fontSize": 15, "color": "#111111", "align": "center", "baseline": "middle", "font": "Liberation Sans"},
"encoding": {"x": {"field": "xc", "type": "quantitative"}, "y": {"field": "z", "type": "quantitative"}, "text": {"field": "s"}, "size": {"condition": {"test": "datum.s === '*'", "value": 19}, "value": 15}}
}
]
}
